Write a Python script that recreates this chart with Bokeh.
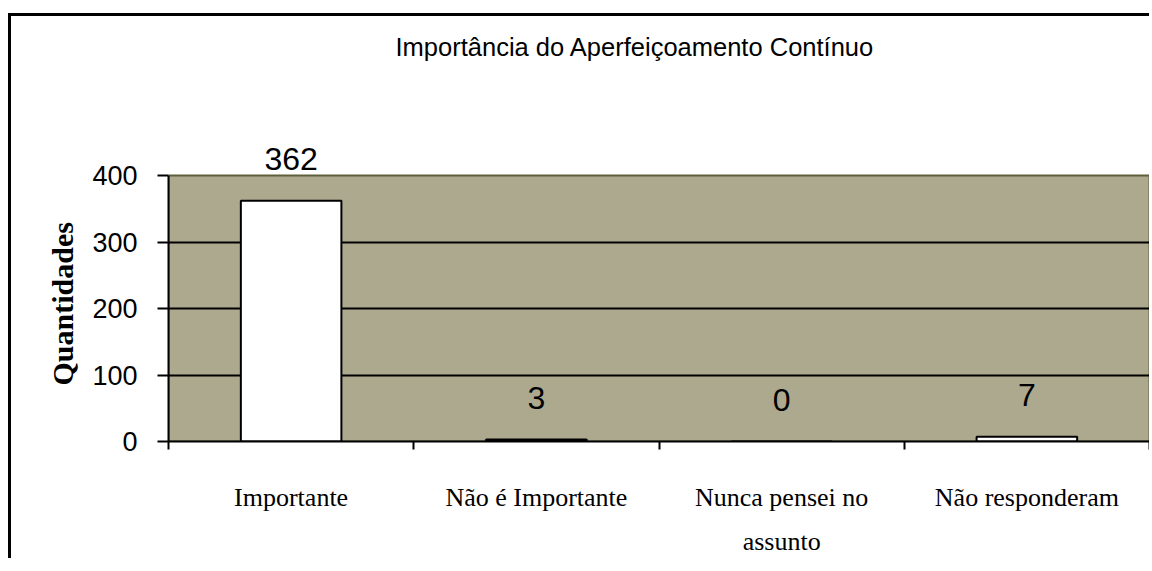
from bokeh.plotting import figure
from bokeh.models import Range1d, FixedTicker, ColumnDataSource, Label, BoxAnnotation, Title
from bokeh.embed import file_html
from bokeh.resources import INLINE

title = "Importância do Aperfeiçoamento Contínuo"
categories = ["Importante", "Não é Importante", "Nunca pensei no\nassunto", "Não responderam"]
values = [362, 3, 0, 7]
y_ticks = [0, 100, 200, 300, 400]
y_label = "Quantidades"

n = len(categories)
centers = [i + 0.5 for i in range(n)]
y_max = y_ticks[-1]

W, H = 1141, 545
border_left, border_right, border_bottom = 157, 3, 120
area_px = 266                       # pixel height of the 0..400 plotting band
frame_px = H - border_bottom        # frame spans whole canvas height above the axis
y_end = y_max * frame_px / area_px  # extra room above the band for title and labels

p = figure(width=W, height=H, output_backend="svg", toolbar_location=None,
           x_range=Range1d(0, n), y_range=Range1d(0, y_end),
           min_border_left=border_left, min_border_right=border_right,
           min_border_top=0, min_border_bottom=border_bottom,
           styles={"border-top": "3px solid black", "border-left": "3px solid black",
                   "margin-top": "13px", "margin-left": "8px"})

p.background_fill_color = "white"
p.border_fill_color = "white"
p.outline_line_color = None

# olive plotting band
p.add_layout(BoxAnnotation(bottom=0, top=y_max, left=0, right=n, level="image",
                           fill_color="#ADA98F", fill_alpha=1.0,
                           line_color="#5F5F3A", line_width=2, line_alpha=1.0))

src = ColumnDataSource(dict(x=centers, top=values))
p.vbar(x="x", top="top", width=0.41, bottom=0, source=src,
       fill_color="white", line_color="black", line_width=2)

for xc, v in zip(centers, values):
    p.add_layout(Label(x=xc, y=v, text=str(v), y_offset=42,
                       text_align="center", text_baseline="alphabetic",
                       text_font="Liberation Sans", text_font_size="32px",
                       text_color="black"))

# title
p.add_layout(Label(x=0, y=y_max, x_offset=227, y_offset=129, text=title,
                   text_align="left", text_baseline="alphabetic",
                   text_font="Liberation Sans", text_font_size="25.5px",
                   text_color="black"))

# y axis label, placed along the band (not the full frame)
p.add_layout(Title(text=y_label, align="left", offset=56, standoff=22,
                   text_font="Liberation Serif", text_font_style="bold",
                   text_font_size="30px", text_color="black"), "left")

# grid
p.xgrid.visible = False
p.ygrid.ticker = FixedTicker(ticks=y_ticks[1:-1])
p.ygrid.grid_line_color = "black"
p.ygrid.grid_line_width = 2

# y axis
ya = p.yaxis[0]
ya.ticker = FixedTicker(ticks=y_ticks)
ya.bounds = (0, y_max)
ya.axis_line_color = "black"
ya.axis_line_width = 2
ya.major_tick_out = 11
ya.major_tick_in = 0
ya.major_tick_line_width = 2
ya.minor_tick_line_color = None
ya.major_label_standoff = 20
ya.major_label_text_font = "Liberation Sans"
ya.major_label_text_font_size = "27px"
ya.major_label_text_color = "black"

# x axis
xa = p.xaxis[0]
xa.ticker = FixedTicker(ticks=centers, minor_ticks=list(range(n + 1)))
xa.major_label_overrides = {c: lab for c, lab in zip(centers, categories)}
xa.axis_line_color = "black"
xa.axis_line_width = 2
xa.major_tick_line_color = None
xa.major_tick_out = 0
xa.major_tick_in = 0
xa.minor_tick_out = 8
xa.minor_tick_in = 0
xa.minor_tick_line_color = "black"
xa.minor_tick_line_width = 2
xa.major_label_standoff = 33
xa.major_label_text_font = "Liberation Serif"
xa.major_label_text_font_size = "26px"
xa.major_label_text_color = "black"
xa.major_label_text_line_height = 1.55

open("out.html", "w").write(file_html(p, INLINE))
